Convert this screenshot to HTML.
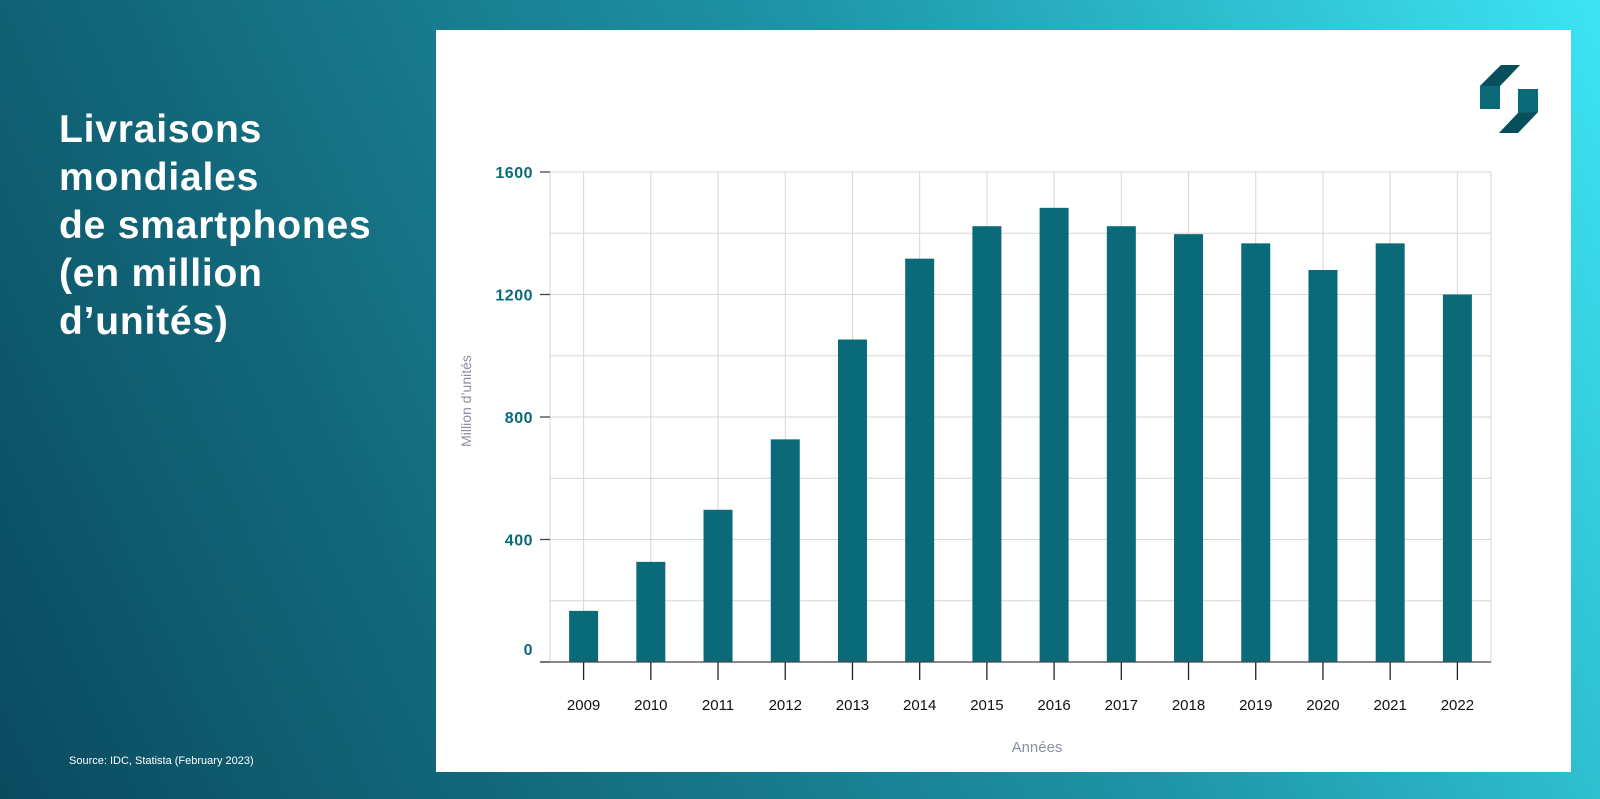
<!DOCTYPE html>
<html><head><meta charset="utf-8"><style>
html,body{margin:0;padding:0;}
body{width:1600px;height:799px;overflow:hidden;position:relative;background:linear-gradient(65deg,#0a4a5e 0%,#146e80 30%,#1e96a8 60%,#3de4f4 100%);font-family:"Liberation Sans",sans-serif;}
#title{position:absolute;left:59px;top:106px;color:#fff;font-weight:bold;font-size:39px;letter-spacing:0.8px;line-height:48px;}
#source{position:absolute;left:69px;top:755px;color:#fff;font-size:11px;}
#panel{position:absolute;left:436px;top:30px;width:1135px;height:742px;background:#fff;}
svg{position:absolute;left:0;top:0;}
</style></head><body>
<div id="title">Livraisons<br>mondiales<br>de smartphones<br>(en million<br>d’unités)</div>
<div id="source">Source: IDC, Statista (February 2023)</div>
<div id="panel"></div>
<svg id="chart" width="1600" height="799">
<g>
<polygon points="1480,86 1501,65 1520,65 1500,86 1500,109 1480,109" fill="#0a6a78"/>
<polygon points="1501,65 1520,65 1500,86 1480,86" fill="#074f5d"/>
<polygon points="1518,89 1538,89 1538,112 1518,133 1499,133 1518,113" fill="#0a6a78"/>
<polygon points="1518,113 1499,133 1518,133 1538,112" fill="#074f5d"/>
</g>
</svg>
<script>
const years=["2009","2010","2011","2012","2013","2014","2015","2016","2017","2018","2019","2020","2021","2022"];
const shipments=[167,327,497,727,1053,1317,1423,1483,1423,1397,1367,1280,1367,1200];
const yTicks=[0,400,800,1200,1600];
const yGrid=[0,200,400,600,800,1000,1200,1400,1600];
const svg=document.getElementById('chart');
const NS='http://www.w3.org/2000/svg';
const L=550,R=1491,T=172,B=662,yMax=1600;
const band=(R-L)/years.length;
const y=v=>B-(v/yMax)*(B-T);
const x=i=>L+band*(i+0.5);
function mk(tag,attrs){const e=document.createElementNS(NS,tag);for(const k in attrs)e.setAttribute(k,attrs[k]);svg.appendChild(e);return e;}
yGrid.forEach(v=>{const l=mk('line',{x1:L,x2:R,y1:y(v),y2:y(v),stroke:'#d6d6d6','stroke-width':1});

});
years.forEach((yr,i)=>{const l=mk('line',{x1:x(i),x2:x(i),y1:T,y2:B,stroke:'#d6d6d6','stroke-width':1});

});
mk('line',{x1:R,x2:R,y1:T,y2:B,stroke:'#d6d6d6'});
mk('line',{x1:L,x2:L,y1:T,y2:B,stroke:'#d6d6d6'});
years.forEach((yr,i)=>{
const b=mk('rect',{x:x(i)-14.5,y:y(shipments[i]),width:29,height:B-y(shipments[i]),fill:'#0a6a78'});


mk('line',{x1:x(i),x2:x(i),y1:B,y2:B+18,stroke:'#222','stroke-width':1.3});
const t=mk('text',{x:x(i),y:710,'text-anchor':'middle','font-size':15,fill:'#111','font-family':'Liberation Sans, sans-serif'});
t.textContent=yr;


});
mk('line',{x1:540,x2:R,y1:B,y2:B,stroke:'#444','stroke-width':1.3});
yTicks.forEach(v=>{
mk('line',{x1:540,x2:550,y1:y(v),y2:y(v),stroke:'#444','stroke-width':1.3});
const t=mk('text',{x:533,y:y(v)+6-(v===0?13:0),'text-anchor':'end','font-size':16,'font-weight':'bold',fill:'#0a6a78','font-family':'Liberation Sans, sans-serif','letter-spacing':'0.5'});
t.textContent=v;


});
const yl=mk('text',{x:0,y:0,transform:'translate(471,401) rotate(-90)','text-anchor':'middle','font-size':14,fill:'#8a8f9c','font-family':'Liberation Sans, sans-serif'});
yl.textContent='Million d’unités';


const xl=mk('text',{x:1037,y:752,'text-anchor':'middle','font-size':15,fill:'#8a8f9c','font-family':'Liberation Sans, sans-serif'});
xl.textContent='Années';


</script>
</body></html>
